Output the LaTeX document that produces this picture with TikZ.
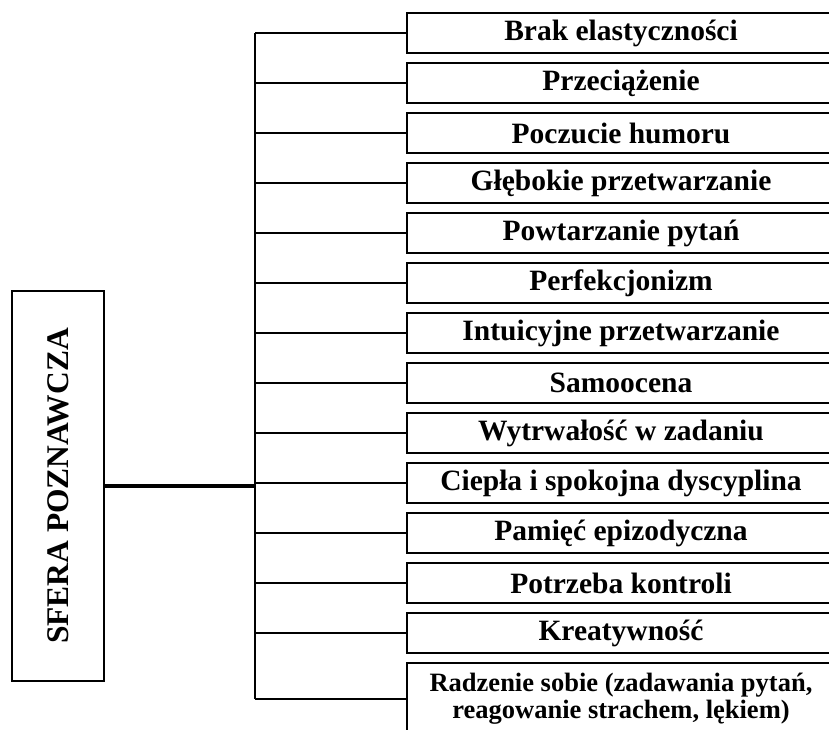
\documentclass[tikz,border=0pt]{standalone}
\usepackage{fontspec}
\setmainfont{Liberation Serif}
\usetikzlibrary{positioning, calc}

\begin{document}
\begin{tikzpicture}[x=1pt,y=-1pt,
  item/.style={draw,line width=2.8pt,minimum width=428pt,minimum height=40pt,
               inner sep=0pt,font=\bfseries\fontsize{29.5}{30}\selectfont},
  mainbox/.style={draw,line width=2.2pt,minimum width=390pt,minimum height=92pt,
               inner sep=0pt,rotate=90,font=\bfseries\fontsize{31.5}{34}\selectfont},
  link/.style={line width=2.4pt}]
  \clip (0,0) rectangle (829,729);
  \node[mainbox] (sfera) at (58,486) {SFERA POZNAWCZA};
  \coordinate (hub) at (255,486);
  \foreach \txt [count=\i] in {Brak elastyczności, Przeciążenie, Poczucie humoru,
      Głębokie przetwarzanie, Powtarzanie pytań, Perfekcjonizm,
      Intuicyjne przetwarzanie, Samoocena, Wytrwałość w zadaniu,
      Ciepła i spokojna dyscyplina, Pamięć epizodyczna, Potrzeba kontroli,
      Kreatywność}
    \node[item] (b\i) at (621,33+50*\i-50) {\txt};
  \node[item,minimum height=72pt,align=center,
        font=\bfseries\fontsize{26.5}{27}\selectfont] (b14) at (621,699)
       {Radzenie sobie (zadawania pytań,\\ reagowanie strachem, lękiem)};
  % spine and branches
  \draw[link] (b1.west -| hub) -- (b14.west -| hub);
  \foreach \i in {1,...,14}
    \draw[link] (b\i.west -| hub) -- (b\i.west);
  \draw[line width=3.5pt] (sfera.south) -- (hub);
\end{tikzpicture}
\end{document}
